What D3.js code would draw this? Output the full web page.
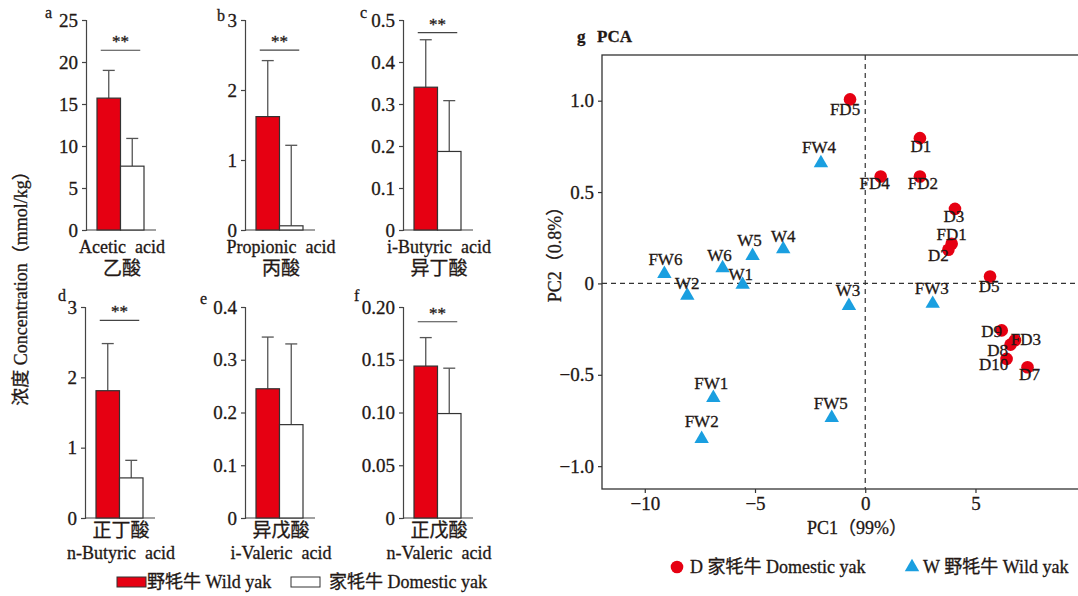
<!DOCTYPE html>
<html>
<head>
<meta charset="utf-8">
<script src="https://cdn.jsdelivr.net/npm/d3@7"></script>
<style>
  body { margin: 0; background: #fff; }
  svg text { font-family: "Liberation Serif", "Noto Sans CJK SC", serif; fill: #231815; stroke: #231815; stroke-width: 0.3px; }
</style>
</head>
<body>
<div id="chart"></div>
<script>
// bar panels a-f
var acidEn = ["Acetic  acid", "Propionic  acid", "i-Butyric  acid", "n-Butyric  acid", "i-Valeric  acid", "n-Valeric  acid"];
var acidCn = ["乙酸", "丙酸", "异丁酸", "正丁酸", "异戊酸", "正戊酸"];
var panelLetter = ["a", "b", "c", "d", "e", "f"];
var wildMean = [15.7, 1.62, 0.34, 1.81, 0.245, 0.144];
var wildSd = [3.3, 0.80, 0.113, 0.67, 0.098, 0.027];
var domMean = [7.6, 0.06, 0.187, 0.57, 0.177, 0.099];
var domSd = [3.3, 1.15, 0.121, 0.25, 0.153, 0.043];
var yTicks = [[0, 5, 10, 15, 20, 25], [0, 1, 2, 3], [0, 0.1, 0.2, 0.3, 0.4, 0.5],
              [0, 1, 2, 3], [0, 0.1, 0.2, 0.3, 0.4], [0, 0.05, 0.10, 0.15, 0.20]];
var tickDigits = [0, 0, 1, 0, 1, 2];
var sigLevel = [21.4, 2.57, 0.47, 2.81, null, 0.186];

// PCA panel g
var pcaName = ["FD5", "D1", "FD4", "FD2", "D3", "FD1", "D2", "D5", "D9", "FD3", "D8", "D10", "D7",
               "FW4", "W4", "W5", "W6", "FW6", "W1", "W2", "W3", "FW3", "FW1", "FW2", "FW5"];
var pc1 = [-0.69, 2.48, 0.70, 2.48, 4.07, 3.92, 3.77, 5.66, 6.19, 6.79, 6.59, 6.41, 7.36,
           -2.01, -3.72, -5.11, -6.47, -9.11, -5.56, -8.07, -0.74, 3.06, -6.89, -7.42, -1.52];
var pc2 = [1.007, 0.795, 0.585, 0.585, 0.408, 0.217, 0.184, 0.038, -0.257, -0.311, -0.335, -0.413, -0.459,
           0.658, 0.188, 0.151, 0.084, 0.053, -0.007, -0.067, -0.122, -0.111, -0.626, -0.85, -0.735];
var pcaTicksX = [-10, -5, 0, 5];
var pcaTicksY = [-1.0, -0.5, 0, 0.5, 1.0];

// label placement around each point (px)
var labelShift = {
  FD5: [-5, 10], D1: [1, 8], FD4: [-6, 7], FD2: [3, 7], D3: [-1, 8], FD1: [0, -9], D2: [-10, 6],
  D5: [-1, 10], D9: [-10, 1], FD3: [11, -1], D8: [-13, 6], D10: [-13, 6], D7: [2, 7],
  FW4: [-2, -16], W4: [0, -13], W5: [-3, -15], W6: [-3, -13], FW6: [1, -14], W1: [-2, -10],
  W2: [0, -12], W3: [-1, -15], FW3: [-1, -15], FW1: [-2, -14], FW2: [0, -17], FW5: [-1, -14]
};

var red = "#e60012", blue = "#1a9fe0", ink = "#231815";

var svg = d3.select("#chart").append("svg")
  .attr("width", 1078).attr("height", 596);

// panel layout
var panelX = [86, 245, 403, 85, 245, 403];
var panelTop = [20, 20, 20, 307, 307, 307];
var panelBottom = [230, 230, 230, 518, 518, 518];
var letterX = [45, 217, 360, 58, 200, 354];
var letterY = [18, 21, 18, 301, 304, 301];
var axisLen = 70;

acidEn.forEach(function(name, i) {
  var g = svg.append("g");
  var y = d3.scaleLinear()
    .domain([0, d3.max(yTicks[i])])
    .range([panelBottom[i], panelTop[i]]);
  var x = d3.scaleBand()
    .domain(["wild", "dom"])
    .range([panelX[i] + 11, panelX[i] + 58])
    .padding(0);

  var fmt = function(v) { return v === 0 ? "0" : v.toFixed(tickDigits[i]); };
  var ax = g.append("g")
    .attr("transform", "translate(" + panelX[i] + ",0)")
    .call(d3.axisLeft(y).tickValues(yTicks[i]).tickFormat(fmt).tickSizeOuter(0).tickSize(4).tickPadding(4));
  ax.select(".domain").attr("stroke", "#444").attr("stroke-width", 1.2);
  ax.selectAll(".tick line").attr("stroke", "#444").attr("stroke-width", 1.2);
  ax.selectAll(".tick text").attr("font-size", 19).attr("fill", ink)
    .style("font-family", "Liberation Serif");

  g.append("line")
    .attr("x1", panelX[i]).attr("x2", panelX[i] + axisLen)
    .attr("y1", y(0)).attr("y2", y(0))
    .attr("stroke", "#444").attr("stroke-width", 1.2);

  var bars = [
    { k: "wild", m: wildMean[i], s: wildSd[i], fill: red },
    { k: "dom", m: domMean[i], s: domSd[i], fill: "#fff" }
  ];
  // error bars (upper only)
  bars.forEach(function(b) {
    var cx = x(b.k) + x.bandwidth() / 2;
    g.append("line").attr("x1", cx).attr("x2", cx)
      .attr("y1", y(b.m)).attr("y2", y(b.m + b.s))
      .attr("stroke", "#555").attr("stroke-width", 1.3);
    g.append("line").attr("x1", cx - 6).attr("x2", cx + 6)
      .attr("y1", y(b.m + b.s)).attr("y2", y(b.m + b.s))
      .attr("stroke", "#555").attr("stroke-width", 1.3);
  });
  g.selectAll("rect.bar").data(bars).enter().append("rect")
    .attr("class", "bar")
    .attr("x", function(d) { return x(d.k); })
    .attr("y", function(d) { return y(d.m); })
    .attr("width", x.bandwidth())
    .attr("height", function(d) { return y(0) - y(d.m); })
    .attr("fill", function(d) { return d.fill; })
    .attr("stroke", "#333").attr("stroke-width", 1.2);

  if (sigLevel[i] != null) {
    var sx1 = x("wild") + x.bandwidth() / 2 - 8;
    var sx2 = x("dom") + x.bandwidth() / 2 + 8;
    g.append("line").attr("x1", sx1).attr("x2", sx2)
      .attr("y1", y(sigLevel[i])).attr("y2", y(sigLevel[i]))
      .attr("stroke", "#444").attr("stroke-width", 1.2);
    g.append("text").attr("x", (sx1 + sx2) / 2).attr("y", y(sigLevel[i]) - 3)
      .attr("text-anchor", "middle").attr("font-size", 17)
      .text("**");
  }

  g.append("text").attr("x", letterX[i]).attr("y", letterY[i])
    .attr("font-size", 16).text(panelLetter[i]);

  var cx0 = panelX[i] + 36;
  if (i < 3) {
    g.append("text").attr("x", cx0).attr("y", panelBottom[i] + 23)
      .attr("text-anchor", "middle").attr("font-size", 18)
      .attr("xml:space", "preserve").text(name);
    g.append("text").attr("x", cx0).attr("y", panelBottom[i] + 45)
      .attr("text-anchor", "middle").attr("font-size", 19).text(acidCn[i]);
  } else {
    g.append("text").attr("x", cx0).attr("y", panelBottom[i] + 19)
      .attr("text-anchor", "middle").attr("font-size", 19).text(acidCn[i]);
    g.append("text").attr("x", cx0).attr("y", panelBottom[i] + 41)
      .attr("text-anchor", "middle").attr("font-size", 18)
      .attr("xml:space", "preserve").text(name);
  }
});

// shared y label
svg.append("text").attr("x", 21).attr("y", 284)
  .attr("transform", "rotate(-90,21,284)")
  .attr("text-anchor", "middle").attr("dominant-baseline", "central")
  .attr("font-size", 18).text("浓度 Concentration（mmol/kg）");

// bar legend
svg.append("rect").attr("x", 117).attr("y", 577).attr("width", 29).attr("height", 10)
  .attr("fill", red).attr("stroke", "#333");
svg.append("text").attr("x", 147).attr("y", 588).attr("font-size", 18).text("野牦牛 Wild yak");
svg.append("rect").attr("x", 291).attr("y", 577).attr("width", 29).attr("height", 10)
  .attr("fill", "#fff").attr("stroke", "#333");
svg.append("text").attr("x", 329).attr("y", 588).attr("font-size", 18).text("家牦牛 Domestic yak");

// ---- PCA ----
var pL = 602, pT = 55, pR = 1078, pB = 489;
var xs = d3.scaleLinear().domain([-11.94, 9.65]).range([pL, pR]);
var ys = d3.scaleLinear().domain([-1.125, 1.25]).range([pB, pT]);

var pg = svg.append("g");
pg.append("rect").attr("x", pL).attr("y", pT).attr("width", pR - pL + 2).attr("height", pB - pT)
  .attr("fill", "none").attr("stroke", "#333").attr("stroke-width", 1.3);

var xa = pg.append("g").attr("transform", "translate(0," + pB + ")")
  .call(d3.axisBottom(xs).tickValues(pcaTicksX).tickFormat(d3.format("d")).tickSize(4).tickPadding(4).tickSizeOuter(0));
var ya = pg.append("g").attr("transform", "translate(" + pL + ",0)")
  .call(d3.axisLeft(ys).tickValues(pcaTicksY)
    .tickFormat(function(v) { return v === 0 ? "0" : d3.format(".1f")(v); }).tickSize(4).tickPadding(4).tickSizeOuter(0));
[xa, ya].forEach(function(a) {
  a.select(".domain").remove();
  a.selectAll(".tick line").attr("stroke", "#333").attr("stroke-width", 1.2);
  a.selectAll(".tick text").attr("font-size", 19).attr("fill", ink).style("font-family", "Liberation Serif");
});

pg.append("line").attr("x1", xs(0)).attr("x2", xs(0)).attr("y1", pT).attr("y2", pB)
  .attr("stroke", "#333").attr("stroke-width", 1.2).attr("stroke-dasharray", "5,4");
pg.append("line").attr("x1", pL).attr("x2", pR).attr("y1", ys(0)).attr("y2", ys(0))
  .attr("stroke", "#333").attr("stroke-width", 1.2).attr("stroke-dasharray", "5,4");

var pts = pcaName.map(function(n, i) {
  return { name: n, x: pc1[i], y: pc2[i], wild: n.indexOf("W") >= 0 };
});
var tri = d3.symbol().type(d3.symbolTriangle).size(90);

pg.selectAll("circle.dom").data(pts.filter(function(d) { return !d.wild; }))
  .enter().append("circle").attr("class", "dom")
  .attr("cx", function(d) { return xs(d.x); }).attr("cy", function(d) { return ys(d.y); })
  .attr("r", 6.3).attr("fill", red);
pg.selectAll("path.wild").data(pts.filter(function(d) { return d.wild; }))
  .enter().append("path").attr("class", "wild")
  .attr("d", tri)
  .attr("transform", function(d) { return "translate(" + xs(d.x) + "," + ys(d.y) + ")"; })
  .attr("fill", blue);

pg.selectAll("text.lab").data(pts).enter().append("text").attr("class", "lab")
  .attr("x", function(d) { return xs(d.x) + labelShift[d.name][0]; })
  .attr("y", function(d) { return ys(d.y) + labelShift[d.name][1]; })
  .attr("text-anchor", "middle").attr("dominant-baseline", "central")
  .attr("font-size", 17).text(function(d) { return d.name; });

svg.append("text").attr("x", 577).attr("y", 42).attr("font-size", 17).attr("font-weight", "bold").text("g");
svg.append("text").attr("x", 597).attr("y", 42).attr("font-size", 17).attr("font-weight", "bold").text("PCA");

svg.append("text").attr("x", 857).attr("y", 534).attr("text-anchor", "middle")
  .attr("font-size", 18).text("PC1（99%）");
svg.append("text").attr("x", 555).attr("y", 250)
  .attr("transform", "rotate(-90,555,250)")
  .attr("text-anchor", "middle").attr("dominant-baseline", "central")
  .attr("font-size", 18).text("PC2（0.8%）");

// PCA legend
svg.append("circle").attr("cx", 677).attr("cy", 567).attr("r", 6.3).attr("fill", red);
svg.append("text").attr("x", 690).attr("y", 573).attr("font-size", 18).text("D 家牦牛 Domestic yak");
svg.append("path").attr("d", tri).attr("transform", "translate(912,567)").attr("fill", blue);
svg.append("text").attr("x", 923).attr("y", 573).attr("font-size", 18).text("W 野牦牛 Wild yak");
</script>
</body>
</html>
